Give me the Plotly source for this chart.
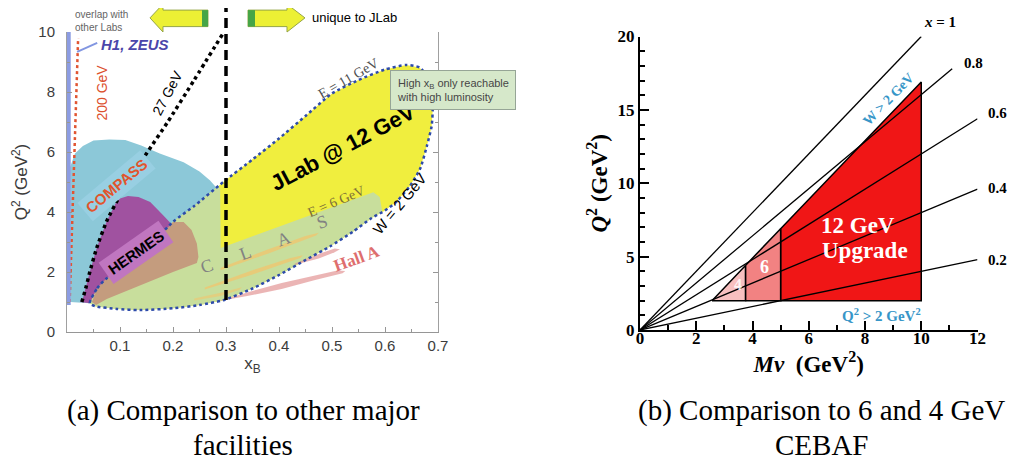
import plotly.graph_objects as go

# ================= Panel (a) data: x_B vs Q^2 =================
xb_tickvals = [0.1, 0.2, 0.3, 0.4, 0.5, 0.6, 0.7]
q2a_tickvals = [0, 2, 4, 6, 8, 10]

compass_x = [0.006, 0.006, 0.015, 0.03, 0.05, 0.08, 0.11, 0.14, 0.175, 0.22, 0.25, 0.27, 0.285, 0.29, 0.2, 0.05]
compass_q2 = [1.0, 5.5, 5.95, 6.2, 6.38, 6.42, 6.4, 6.22, 5.95, 5.66, 5.35, 5.05, 4.75, 4.5, 3.0, 0.95]

jlab_upper_x = [0.043, 0.057, 0.075, 0.094, 0.125, 0.157, 0.2, 0.24, 0.295, 0.35, 0.4, 0.45, 0.5, 0.55, 0.6, 0.64, 0.665, 0.68, 0.688, 0.69]
jlab_upper_q2 = [0.96, 1.46, 1.79, 1.95, 2.4, 2.9, 3.67, 4.2, 5.0, 5.75, 6.45, 7.2, 7.95, 8.4, 8.75, 8.9, 8.82, 8.5, 8.0, 7.4]
jlab_lower_x = [0.688, 0.679, 0.666, 0.647, 0.622, 0.6, 0.575, 0.54, 0.496, 0.45, 0.4, 0.35, 0.295, 0.25, 0.2, 0.138, 0.094, 0.053, 0.043]
jlab_lower_q2 = [6.86, 6.2, 5.43, 4.87, 4.35, 4.05, 3.8, 3.35, 2.85, 2.4, 1.9, 1.45, 1.06, 0.9, 0.79, 0.73, 0.77, 0.86, 0.96]

clas6_x = [0.043, 0.057, 0.075, 0.094, 0.125, 0.157, 0.2, 0.24, 0.285, 0.289, 0.29, 0.578, 0.59, 0.595,
           0.575, 0.54, 0.496, 0.45, 0.4, 0.35, 0.295, 0.25, 0.2, 0.138, 0.094, 0.053]
clas6_q2 = [0.96, 1.46, 1.79, 1.95, 2.4, 2.9, 3.67, 4.2, 4.85, 4.8, 2.8, 4.66, 4.5, 4.0,
            3.8, 3.35, 2.85, 2.4, 1.9, 1.45, 1.06, 0.9, 0.79, 0.73, 0.77, 0.86]

hermes_x = [0.025, 0.03, 0.043, 0.056, 0.075, 0.092, 0.1, 0.115, 0.135, 0.157, 0.181, 0.197, 0.157, 0.125, 0.094, 0.075, 0.057, 0.043]
hermes_q2 = [1.0, 1.12, 2.0, 2.8, 3.7, 4.3, 4.45, 4.53, 4.5, 4.33, 3.9, 3.6, 2.9, 2.4, 1.95, 1.79, 1.46, 0.96]

brown_x = [0.047, 0.057, 0.075, 0.094, 0.125, 0.157, 0.2, 0.22, 0.235, 0.245, 0.248, 0.245, 0.2, 0.138, 0.1, 0.075, 0.055]
brown_q2 = [1.0, 1.46, 1.79, 1.95, 2.4, 2.9, 3.67, 3.67, 3.4, 2.95, 2.5, 2.3, 2.0, 1.56, 1.3, 1.1, 0.9]

clas_streak_a_x = [0.29, 0.38, 0.45, 0.475, 0.47, 0.38, 0.29]
clas_streak_a_q2 = [2.14, 2.76, 3.2, 3.31, 3.22, 2.62, 2.06]
clas_streak_b_x = [0.26, 0.35, 0.42, 0.445, 0.44, 0.35, 0.26]
clas_streak_b_q2 = [1.48, 2.06, 2.46, 2.56, 2.47, 1.92, 1.42]
clas_streak_c_x = [0.24, 0.29, 0.33, 0.325, 0.29, 0.24]
clas_streak_c_q2 = [1.12, 1.31, 1.49, 1.4, 1.2, 1.05]

halla_low_x = [0.29, 0.34, 0.405, 0.47, 0.51, 0.525, 0.52, 0.47, 0.405, 0.34, 0.29]
halla_low_q2 = [1.06, 1.32, 1.63, 1.9, 2.05, 2.03, 1.96, 1.74, 1.43, 1.2, 1.04]
halla_up_x = [0.43, 0.475, 0.505, 0.515, 0.505, 0.475, 0.43]
halla_up_q2 = [2.28, 2.6, 2.78, 2.76, 2.66, 2.45, 2.24]

gev27_x = [0.028, 0.036, 0.043, 0.056, 0.075, 0.1, 0.125, 0.15, 0.19, 0.24, 0.295]
gev27_q2 = [1.0, 1.5, 2.0, 2.8, 3.7, 4.55, 5.25, 5.95, 7.0, 8.4, 9.97]

gev200_x = [0.005, 0.021]
gev200_q2 = [1.0, 9.8]

h1_x = [0.0, 0.007]
h1_q2 = [0.9, 10.0]
h1_pointer_x = [0.019, 0.057]
h1_pointer_q2 = [9.34, 9.64]

split_xb = 0.3
callout_xb, callout_q2 = 0.728, 8.08

# ================= Panel (b) data: M*nu vs Q^2 =================
mnu_tickvals = [0, 2, 4, 6, 8, 10, 12]
q2b_tickvals = [0, 5, 10, 15, 20]
MNU_MAX, Q2B_MAX = 12, 20

xbj_labels = ["<i>x</i> = 1", "0.8", "0.6", "0.4", "0.2"]
line_end_mnu = [10, 11.1, 12, 12, 12]
line_end_q2 = [20, 17.8, 14.4, 9.6, 4.8]
label_mnu = [10.65, 11.85, 12.7, 12.7, 12.7]
label_q2 = [21.0, 18.2, 14.8, 9.7, 4.8]

r12_mnu = [5, 10, 10, 5]
r12_q2 = [2, 2, 16.9, 6.9]
r6_mnu = [3.75, 5, 5, 3.75]
r6_q2 = [2, 2, 6.9, 4.4]
r4_mnu = [2.56, 3.75, 3.75]
r4_q2 = [2, 2, 4.4]

# ================= Layout geometry =================
OFF = 8                      # page body margin of the viewer
W, H = 1025 - OFF, 466 - OFF
def dx(px):
    return (px - OFF) / W
def dy(py):
    return 1 - (py - OFF) / H

SANS = "Liberation Sans"
SERIF = "Liberation Serif"

fig = go.Figure()

def poly(x, y, color, xa="x", ya="y", line=None):
    fig.add_trace(go.Scatter(
        x=x + x[:1], y=y + y[:1], mode="lines", fill="toself", fillcolor=color,
        line=line or dict(width=0, color=color), hoverinfo="skip", showlegend=False,
        xaxis=xa, yaxis=ya))

# panel (a) regions
poly(compass_x, compass_q2, "rgb(140,200,216)")
poly(jlab_upper_x + jlab_lower_x, jlab_upper_q2 + jlab_lower_q2, "rgb(240,238,62)")
poly(clas6_x, clas6_q2, "rgb(200,222,156)")
poly(brown_x, brown_q2, "rgb(196,156,126)")
poly(hermes_x, hermes_q2, "rgb(160,82,160)")
poly(clas_streak_a_x, clas_streak_a_q2, "rgba(242,196,110,0.75)")
poly(clas_streak_b_x, clas_streak_b_q2, "rgba(242,196,110,0.75)")
poly(clas_streak_c_x, clas_streak_c_q2, "rgba(242,196,110,0.6)")
poly(halla_low_x, halla_low_q2, "rgba(226,150,150,0.7)")
poly(halla_up_x, halla_up_q2, "rgba(226,150,150,0.7)")

fig.add_trace(go.Scatter(x=jlab_upper_x + jlab_lower_x, y=jlab_upper_q2 + jlab_lower_q2, mode="lines",
                         line=dict(color="rgb(45,75,170)", width=2.5, dash="dot", shape="spline", smoothing=0.6),
                         hoverinfo="skip", showlegend=False))
fig.add_trace(go.Scatter(x=gev27_x, y=gev27_q2, mode="lines",
                         line=dict(color="black", width=3.5, dash="dot", shape="spline", smoothing=0.5),
                         hoverinfo="skip", showlegend=False))
fig.add_trace(go.Scatter(x=gev200_x, y=gev200_q2, mode="lines",
                         line=dict(color="rgb(225,85,50)", width=2.5, dash="dot"),
                         hoverinfo="skip", showlegend=False))
poly([h1_x[0], h1_x[1], h1_x[1], h1_x[0]], [h1_q2[0], h1_q2[0], h1_q2[1], h1_q2[1]], "rgb(140,156,226)")
fig.add_trace(go.Scatter(x=h1_pointer_x, y=h1_pointer_q2, mode="lines",
                         line=dict(color="rgb(130,150,225)", width=2),
                         hoverinfo="skip", showlegend=False))

# panel (b) regions and x_Bj lines
poly(r12_mnu, r12_q2, "rgb(240,22,22)", "x2", "y2", dict(color="black", width=1.5))
poly(r6_mnu, r6_q2, "rgb(242,130,130)", "x2", "y2", dict(color="black", width=1.5))
poly(r4_mnu, r4_q2, "rgb(248,192,192)", "x2", "y2", dict(color="black", width=1.5))
for m, q in zip(line_end_mnu, line_end_q2):
    fig.add_trace(go.Scatter(x=[0, m], y=[0, q], mode="lines", line=dict(color="black", width=1.3),
                             hoverinfo="skip", showlegend=False, xaxis="x2", yaxis="y2"))

# ---------- shapes: dashed split line and arrows ----------
shapes = []
shapes.append(dict(type="line", xref="x", yref="y domain", x0=split_xb, x1=split_xb, y0=0.107, y1=1.08,
                   line=dict(color="black", width=3.5, dash="10px,6px")))
def xpath(pts):
    return "M " + " L ".join(f"{a},{b}" for a, b in pts) + " Z"
shapes.append(dict(type="path", xref="x", yref="y domain", layer="above",
                   path=xpath([(0.1566, 1.047), (0.1811, 1.093), (0.1811, 1.073), (0.266, 1.073),
                               (0.266, 1.018), (0.1811, 1.018), (0.1811, 1.0)]),
                   fillcolor="rgb(236,240,52)", line=dict(color="rgb(150,165,70)", width=1)))
shapes.append(dict(type="rect", xref="x", yref="y domain", x0=0.2547, x1=0.266, y0=1.018, y1=1.073,
                   fillcolor="rgb(70,165,70)", line=dict(width=0)))
shapes.append(dict(type="path", xref="x", yref="y domain", layer="above",
                   path=xpath([(0.449, 1.047), (0.4151, 1.093), (0.4151, 1.073), (0.3415, 1.073),
                               (0.3415, 1.018), (0.4151, 1.018), (0.4151, 1.0)]),
                   fillcolor="rgb(236,240,52)", line=dict(color="rgb(150,165,70)", width=1)))
shapes.append(dict(type="rect", xref="x", yref="y domain", x0=0.3415, x1=0.3547, y0=1.018, y1=1.073,
                   fillcolor="rgb(70,165,70)", line=dict(width=0)))

# ---------- annotations ----------
ann = []
def text_a(t, x, y, size, color="black", angle=0, family=SANS, weight="normal", style="normal", **kw):
    d = dict(text=t, x=x, y=y, xref="x", yref="y", showarrow=False, textangle=angle,
             xanchor="center", yanchor="middle",
             font=dict(family=family, size=size, color=color, weight=weight, style=style))
    d.update(kw)
    ann.append(d)

text_a("H1, ZEUS", 0.128, 9.6, 15, "rgb(75,70,170)", weight="bold", style="italic")
text_a("200 GeV", 0.066, 7.98, 14, "rgb(220,80,45)", angle=-90)
text_a("27 GeV", 0.189, 7.98, 14, "black", angle=-62)
text_a("E = 11 GeV", 0.531, 8.45, 14, "rgb(80,80,80)", angle=-30, family=SERIF)
text_a("JLab @ 12 GeV", 0.52, 6.15, 22, "black", angle=-28, weight="bold")
text_a("E = 6 GeV", 0.508, 4.35, 14, "rgb(125,110,55)", angle=-23, family=SERIF)
text_a("W = 2 GeV", 0.628, 4.27, 15, "black", angle=-50)
text_a("COMPASS", 0.094, 4.88, 15, "rgb(225,85,45)", angle=-40, weight="bold",
       bgcolor="rgb(152,207,226)", borderpad=3)
text_a("HERMES", 0.13, 2.65, 15, "black", angle=-35, weight="bold",
       bgcolor="rgb(192,118,192)", borderpad=4)
for letter, lx, lq in zip(["C", "L", "A", "S"], [0.264, 0.336, 0.408, 0.481], [2.19, 2.62, 3.11, 3.67]):
    text_a(letter, lx, lq, 18, "rgb(130,130,130)", angle=-20, family=SERIF)
text_a("Hall A", 0.547, 2.45, 17, "rgb(222,110,110)", angle=-20, family=SERIF, weight="bold")
# callout box sits partly right of the x range: place it in x-domain units
ann.append(dict(text="High x<sub>B</sub> only reachable<br>with high luminosity",
                x=callout_xb / 0.7, y=callout_q2, xref="x domain", yref="y", showarrow=False,
                xanchor="center", yanchor="middle", align="left",
                font=dict(family=SANS, size=11, color="rgb(70,70,70)"),
                bgcolor="rgb(214,232,202)", bordercolor="rgb(150,165,150)", borderwidth=1, borderpad=6))

ann.append(dict(text="overlap with<br>other Labs", x=0.011, y=1.036, xref="x", yref="y domain",
                xanchor="left", yanchor="middle", showarrow=False, align="left",
                font=dict(family=SANS, size=10, color="rgb(100,100,100)")))
ann.append(dict(text="unique to JLab", x=0.543, y=1.047, xref="x", yref="y domain",
                xanchor="center", yanchor="middle", showarrow=False,
                font=dict(family=SANS, size=13, color="black")))

# panel (b) line labels, outside the axis ranges -> domain units
for t, m, q in zip(xbj_labels, label_mnu, label_q2):
    ann.append(dict(text=t, x=m / MNU_MAX, y=q / Q2B_MAX, xref="x2 domain", yref="y2 domain",
                    showarrow=False, xanchor="center", yanchor="middle",
                    font=dict(family=SERIF, size=15, color="black", weight="bold")))

def text_b(t, x, y, size, color, angle=0):
    ann.append(dict(text=t, x=x, y=y, xref="x2", yref="y2", showarrow=False, textangle=angle,
                    xanchor="center", yanchor="middle",
                    font=dict(family=SERIF, size=size, color=color, weight="bold")))
text_b("12 GeV", 7.75, 7.15, 23, "white")
text_b("Upgrade", 8.0, 5.45, 23, "white")
text_b("6", 4.41, 4.29, 18, "white")
text_b("4", 3.48, 3.07, 16, "rgba(255,255,255,0.85)")
text_b("W > 2 GeV", 8.82, 15.74, 14, "rgb(55,150,200)", angle=-46)
text_b("Q<sup>2</sup> > 2 GeV<sup>2</sup>", 8.57, 1.02, 15, "rgb(55,150,200)")

# captions
for t, cx, cy in [("(a) Comparison to other major", 243, 410), ("facilities", 243, 445),
                  ("(b) Comparison to 6 and 4 GeV", 821, 410), ("CEBAF", 821, 445)]:
    ann.append(dict(text=t, x=dx(cx), y=dy(cy), xref="paper", yref="paper", showarrow=False,
                    xanchor="center", yanchor="middle",
                    font=dict(family=SERIF, size=29, color="black")))

fig.update_layout(
    width=W, height=H, autosize=False,
    margin=dict(l=0, r=0, t=0, b=0, autoexpand=False),
    paper_bgcolor="white", plot_bgcolor="white",
    showlegend=False,
    shapes=shapes, annotations=ann,
    xaxis=dict(domain=[dx(67), dx(438)], range=[0, 0.7], anchor="y",
               tickvals=xb_tickvals, ticktext=[f"{v:.1f}" for v in xb_tickvals],
               ticks="inside", ticklen=5, tickcolor="rgb(150,150,150)",
               minor=dict(dtick=0.05, ticks="inside", ticklen=3, tickcolor="rgb(150,150,150)"),
               showline=True, linecolor="rgb(150,150,150)", linewidth=1, showgrid=False, zeroline=False,
               tickfont=dict(family=SANS, size=15, color="rgb(60,60,60)"),
               title=dict(text="x<sub>B</sub>", font=dict(family=SANS, size=17, color="rgb(60,60,60)"), standoff=4)),
    yaxis=dict(domain=[dy(332), dy(32)], range=[0, 10], anchor="x",
               tickvals=q2a_tickvals, ticks="inside", ticklen=5, tickcolor="rgb(150,150,150)",
               minor=dict(dtick=1, ticks="inside", ticklen=3, tickcolor="rgb(150,150,150)"),
               showline=True, mirror="ticks", linecolor="rgb(160,160,160)", linewidth=1,
               showgrid=False, zeroline=False, ticklabelstandoff=8,
               tickfont=dict(family=SANS, size=15, color="rgb(60,60,60)"),
               title=dict(text="Q<sup>2</sup> (GeV<sup>2</sup>)", font=dict(family=SANS, size=17, color="rgb(60,60,60)"),
                          standoff=6)),
    xaxis2=dict(domain=[dx(640), dx(977.5)], range=[0, MNU_MAX], anchor="y2",
                tickvals=mnu_tickvals, ticks="inside", ticklen=9, tickwidth=2, tickcolor="black",
                minor=dict(dtick=1, ticks="inside", ticklen=5, tickwidth=1.5, tickcolor="black"),
                showline=True, linecolor="black", linewidth=2, showgrid=False, zeroline=False,
                ticklabelstandoff=-8,
                tickfont=dict(family=SERIF, size=17, color="black", weight="bold"),
                title=dict(text="<i>M</i><i>ν</i>  (GeV<sup>2</sup>)",
                           font=dict(family=SERIF, size=23, color="black", weight="bold"), standoff=7)),
    yaxis2=dict(domain=[dy(330), dy(36.5)], range=[0, Q2B_MAX], anchor="x2",
                tickvals=q2b_tickvals, ticks="inside", ticklen=9, tickwidth=2, tickcolor="black",
                minor=dict(dtick=1, ticks="inside", ticklen=5, tickwidth=1.5, tickcolor="black"),
                showline=True, linecolor="black", linewidth=2, showgrid=False, zeroline=False,
                tickfont=dict(family=SERIF, size=17, color="black", weight="bold"),
                title=dict(text="<i>Q</i><sup>2</sup> (GeV<sup>2</sup>)",
                           font=dict(family=SERIF, size=23, color="black", weight="bold"), standoff=4)),
)

fig.write_html("out.html")
